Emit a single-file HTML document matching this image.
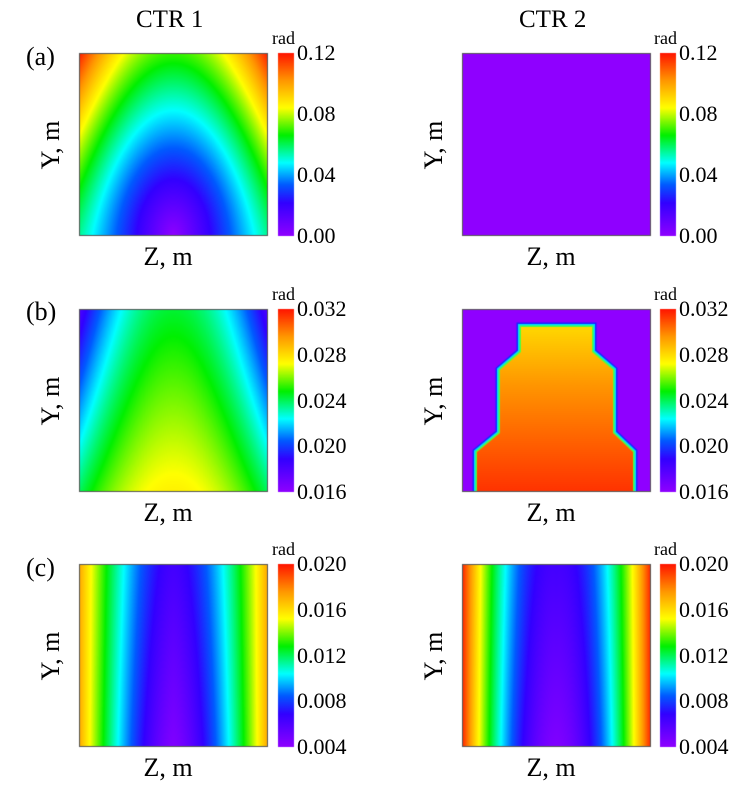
<!DOCTYPE html>
<html><head><meta charset="utf-8"><style>
html,body{margin:0;padding:0;background:#fff;}
#w{position:relative;width:742px;height:800px;overflow:hidden;color:#000;}
canvas{position:absolute;left:0;top:0;}
.t{position:absolute;white-space:nowrap;font-family:"Liberation Serif","Times New Roman","DejaVu Serif",serif;}
.ti{font-size:25px;}
.lab{font-size:26px;}
.tk{font-size:22px;}
.rad{font-size:18px;}
.yl{font-size:26px;transform:rotate(-90deg);transform-origin:center center;}
</style></head><body><div id="w">
<canvas id="c" width="742" height="800"></canvas>
<div class="t ti" style="left:136px;top:6px;">CTR 1</div>
<div class="t ti" style="left:519px;top:6px;">CTR 2</div>
<div class="t lab" style="left:26px;top:42px;">(a)</div>
<div class="t lab" style="left:26px;top:297px;">(b)</div>
<div class="t lab" style="left:26px;top:553px;">(c)</div>
<div id="txt"></div>
</div>
<script>
var cv=document.getElementById('c'),ctx=cv.getContext('2d');
var stops=[[0,[143,0,255]],[0.18,[50,0,255]],[0.28,[0,90,255]],[0.4,[0,255,255]],[0.55,[0,240,0]],[0.7,[255,255,0]],[0.85,[255,150,0]],[1,[255,20,0]]];
function cmap(v){v=Math.max(0,Math.min(1,v));for(var i=1;i<stops.length;i++){if(v<=stops[i][0]){var a=stops[i-1],b=stops[i],t=(v-a[0])/(b[0]-a[0]);return [a[1][0]+(b[1][0]-a[1][0])*t,a[1][1]+(b[1][1]-a[1][1])*t,a[1][2]+(b[1][2]-a[1][2])*t];}}return stops[stops.length-1][1];}
function field(x0,y0,w,h,f){var img=ctx.createImageData(w,h);for(var j=0;j<h;j++){for(var i=0;i<w;i++){var u=(i+0.5)/w,wv=1-(j+0.5)/h;var c=cmap(f(u,wv));var k=(j*w+i)*4;img.data[k]=c[0];img.data[k+1]=c[1];img.data[k+2]=c[2];img.data[k+3]=255;}}ctx.putImageData(img,x0,y0);}
function box(x,y,w,h){ctx.strokeStyle='#555';ctx.lineWidth=1;ctx.strokeRect(x+0.5,y+0.5,w-1,h-1);}
var rows=[53,309,564],H=183,LX=79,RX=462,W=189,CBW=16;
var ticks=[["0.12","0.08","0.04","0.00"],["0.032","0.028","0.024","0.020","0.016"],["0.020","0.016","0.012","0.008","0.004"]];
var fs=[
[function(u,w){var d=Math.abs(u-0.5);return Math.sqrt(0.865*d*d+0.34*w*w)+d*d*w*1.0;},function(){return 0;}],
[function(u,w){var d=Math.abs(u-0.5);return 0.72-0.2*w-0.9*d*d-0.7*d*d*w;},null],
[function(u,w){var d=Math.abs(u-0.5);return 0.8*Math.pow(2*d,1.45)+0.12*w*(1-2*d)+0.03;},function(u,w){var d=Math.abs(u-0.5);return 0.96*Math.pow(2*d,1.8)+0.12*w*(1-2*d)+0.03;}]
];
var html='';
for(var r=0;r<3;r++){var y=rows[r];
 field(LX,y,W,H,fs[r][0]);box(LX,y,W,H);
 if(fs[r][1]){field(RX,y,W,H,fs[r][1]);}else{
  ctx.fillStyle='rgb(143,0,255)';ctx.fillRect(RX,y,W,H);
  ctx.save();ctx.beginPath();ctx.rect(RX,y,W,H);ctx.clip();
  var P=[[477,492],[477,452],[500,433],[500,370],[521,352],[521,327],[592,327],[592,352],[613,370],[613,433],[633,452],[633,492]];
  function path(){ctx.beginPath();ctx.moveTo(P[0][0],P[0][1]+10);for(var i=0;i<P.length;i++)ctx.lineTo(P[i][0],P[i][1]);ctx.lineTo(P[P.length-1][0],P[P.length-1][1]+10);ctx.closePath();}
  ctx.lineJoin='miter';
  path();ctx.lineWidth=9;ctx.strokeStyle='rgb(20,40,255)';ctx.stroke();
  path();ctx.lineWidth=6;ctx.strokeStyle='rgb(0,220,255)';ctx.stroke();
  path();ctx.lineWidth=3;ctx.strokeStyle='rgb(80,255,60)';ctx.stroke();
  var g=ctx.createLinearGradient(0,327,0,492);g.addColorStop(0,'rgb(255,215,0)');g.addColorStop(0.35,'rgb(255,150,0)');g.addColorStop(1,'rgb(255,50,0)');
  path();ctx.fillStyle=g;ctx.fill();ctx.restore();
 }
 box(RX,y,W,H);
 [278,660].forEach(function(cx){var g=ctx.createLinearGradient(0,y+H,0,y);stops.forEach(function(s){var c=s[1];g.addColorStop(s[0],'rgb('+c.map(Math.round).join(',')+')');});ctx.fillStyle=g;ctx.fillRect(cx,y,CBW,H);
  var tk=ticks[r],n=tk.length;for(var i=0;i<n;i++){var ty=y+i*H/(n-1);html+='<div class="t tk" style="left:'+(cx+19)+'px;top:'+(ty-13)+'px;">'+tk[i]+'</div>';}
  html+='<div class="t rad" style="left:'+(cx-6)+'px;top:'+(y-25)+'px;">rad</div>';});
 [LX,RX].forEach(function(px){html+='<div class="t lab" style="left:'+(px+W/2-30)+'px;top:'+(y+H+6)+'px;">Z, m</div>';
  html+='<div class="t yl" style="left:'+(px-58)+'px;top:'+(y+H/2-15)+'px;width:60px;text-align:center;">Y, m</div>';});
}
document.getElementById('txt').innerHTML=html;
</script>
</body></html>
